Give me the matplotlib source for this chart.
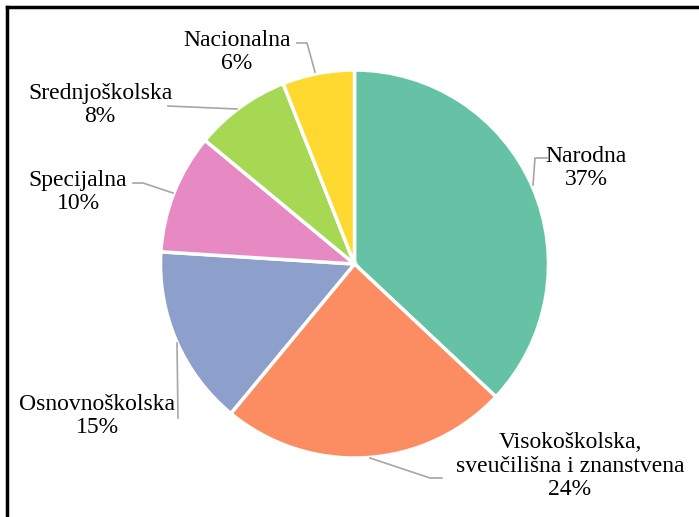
import matplotlib.pyplot as plt
from matplotlib.lines import Line2D

# data
categories = ["Narodna", "Visokoškolska,\nsveučilišna i znanstvena", "Osnovnoškolska",
              "Specijalna", "Srednjoškolska", "Nacionalna"]
shares = [37, 24, 15, 10, 8, 6]
colors = ["#66c2a5", "#fc8d62", "#8da0cb", "#e78ac3", "#a6d854", "#ffd92f"]

W, H = 699, 517

# label centres and leader lines (pixel coords, y down)
label_pos = [(586, 168), (570, 466), (97, 416), (78, 192), (100, 105), (237, 52)]
leaders = [
    [(547, 158), (535, 158), (533, 185)],
    [(370, 458), (430, 478), (442, 478)],
    [(177, 343), (178, 418)],
    [(133, 183), (143, 183), (173, 193)],
    [(168, 106), (237, 109)],
    [(297, 43), (307, 43), (315, 72)],
]

fig = plt.figure(figsize=(W / 100, H / 100), dpi=100)
ax = fig.add_axes([0, 0, 1, 1])

ax.pie(shares, colors=colors, startangle=90, counterclock=False,
       center=(354.5, H - 264), radius=194, frame=True,
       wedgeprops=dict(edgecolor="white", linewidth=2.5))
ax.set_xlim(0, W)
ax.set_ylim(0, H)
ax.set_aspect("equal")
ax.axis("off")

for cat, val, (x, y), pts in zip(categories, shares, label_pos, leaders):
    xs = [p[0] for p in pts]
    ys = [H - p[1] for p in pts]
    ax.plot(xs, ys, color="#a6a6a6", lw=1.2)
    ax.text(x, H - y, f"{cat}\n{val}%", ha="center", va="center",
            fontsize=17, family="Liberation Serif", linespacing=1.15)

# frame (only top and left visible in the original)
fig.add_artist(Line2D([7 / W, 7 / W], [0, 1 - 7 / H], transform=fig.transFigure, color="black", lw=2.5))
fig.add_artist(Line2D([7 / W, 1], [1 - 7 / H, 1 - 7 / H], transform=fig.transFigure, color="black", lw=2.5))

fig.savefig("out.png", dpi=100)
